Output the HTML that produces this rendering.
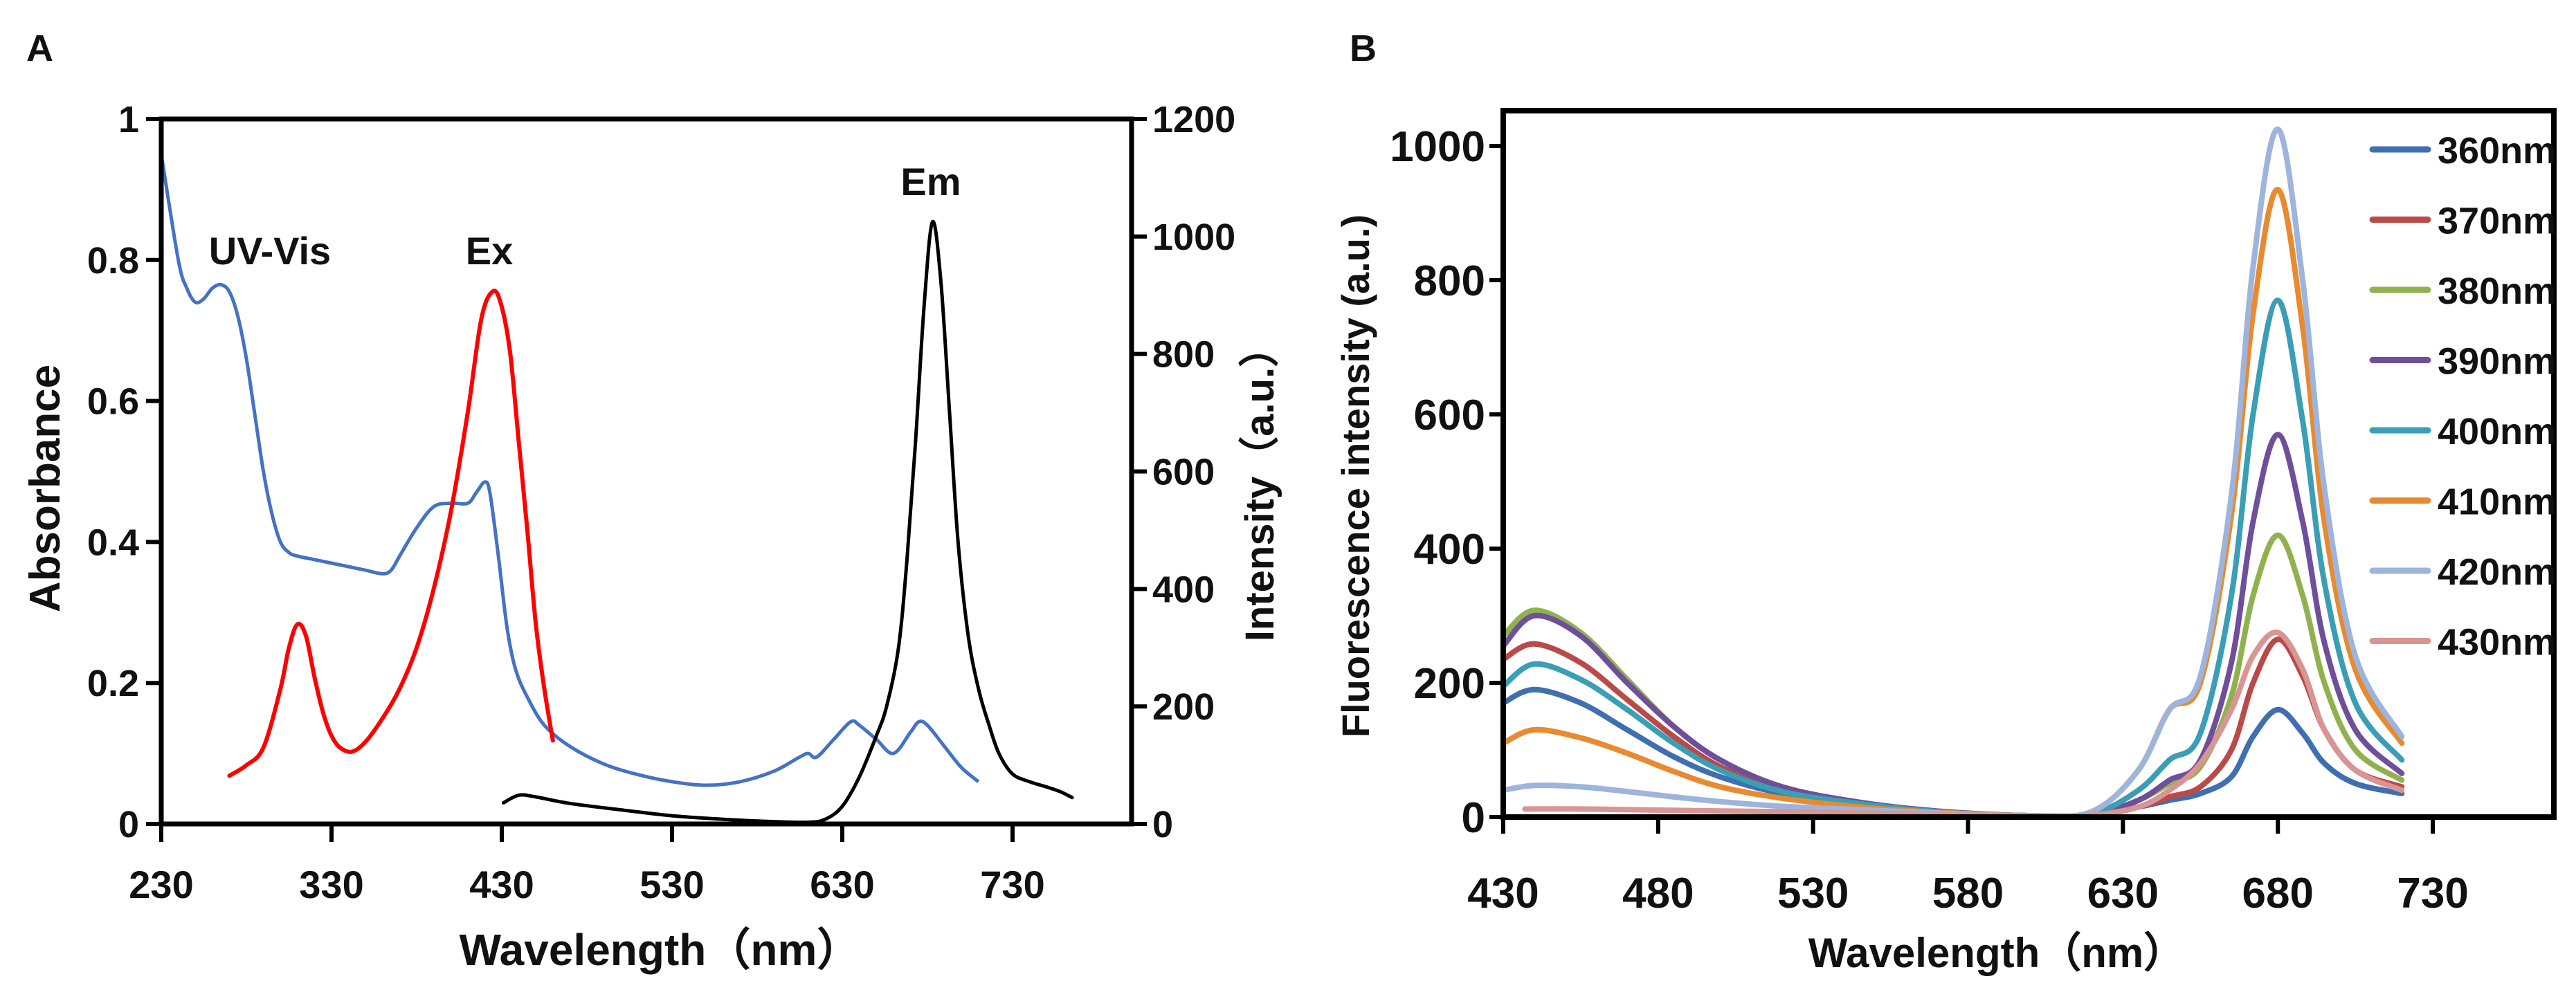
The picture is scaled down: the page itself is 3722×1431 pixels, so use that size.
<!DOCTYPE html>
<html><head><meta charset="utf-8">
<style>
html,body{margin:0;padding:0;background:#fff;}
svg{display:block;}
text{font-family:"Liberation Sans Narrow","Liberation Sans",sans-serif;font-weight:bold;fill:#111;}
</style></head>
<body>
<svg id="fig" width="3722" height="1431" viewBox="0 0 3722 1431" xmlns="http://www.w3.org/2000/svg">
<g id="pa"></g>
<g id="pb"></g>
</svg>
<script>
// ---------- Panel A data ----------
const uvWl  = [230,240,245,250,255,260,265,270,275,280,285,290,295,300,305,310,320,330,340,350,360,365,370,380,390,400,410,415,420,423,428,433,438,445,455,470,490,510,530,550,570,590,605,610,615,625,635,640,650,660,670,675,680,690,700,710];
const uvAbs = [0.95,0.80,0.76,0.74,0.745,0.76,0.765,0.755,0.72,0.66,0.58,0.50,0.44,0.40,0.385,0.38,0.375,0.37,0.365,0.36,0.355,0.36,0.38,0.42,0.45,0.455,0.455,0.47,0.485,0.47,0.38,0.28,0.22,0.18,0.14,0.11,0.085,0.07,0.06,0.055,0.06,0.075,0.095,0.10,0.095,0.12,0.145,0.14,0.12,0.10,0.13,0.145,0.14,0.11,0.08,0.06];
const exWl  = [270,280,290,300,305,310,315,320,325,330,335,342,350,360,370,380,390,400,410,418,425,430,435,440,445,450,455,460];
const exInt = [82,100,130,230,300,340,320,250,190,150,130,123,140,180,230,300,400,530,700,860,907,880,800,650,500,340,230,142];
const emWl  = [431,440,450,470,500,530,560,590,610,620,630,640,650,656,663,668,673,678,683,688,693,698,704,710,716,722,730,740,750,758,765];
const emInt = [36,49,46,35,24,14,8,4,3,8,30,80,150,200,300,450,650,880,1025,920,700,480,320,230,170,120,85,72,63,55,45];
const aXTicks = [230,330,430,530,630,730];
const aYTicks = [0,0.2,0.4,0.6,0.8,1];
const aYLabels = ["0","0.2","0.4","0.6","0.8","1"];
const aY2Ticks = [0,200,400,600,800,1000,1200];

// ---------- Panel B data ----------
const bWl = [430,440,455,470,485,500,520,545,570,600,620,635,645,655,665,672,680,688,695,705,720];
const bNames = ["360nm","370nm","380nm","390nm","400nm","410nm","420nm","430nm"];
const s360 = [170,190,170,130,90,60,35,18,8,2,3,15,25,35,60,120,160,125,80,50,35];
const s370 = [235,258,230,175,120,75,40,20,8,2,3,15,30,45,100,200,265,210,130,70,45];
const s380 = [270,308,275,205,135,85,45,22,9,2,4,25,50,75,180,330,420,330,200,100,55];
const s390 = [255,300,270,200,135,85,45,22,9,2,4,25,55,85,230,440,570,440,260,130,65];
const s400 = [195,228,205,160,110,70,38,20,8,2,5,40,85,125,330,600,770,590,350,170,85];
const s410 = [110,130,118,95,68,45,28,15,7,2,8,70,160,200,450,750,935,730,440,220,110];
const s420 = [40,47,45,38,30,23,16,11,6,2,8,70,160,210,480,820,1025,800,490,240,120];
const s430 = [null,12,12,11,10,9,8,6,4,2,3,15,40,80,160,240,275,220,130,70,40];
const bSeries = [s360,s370,s380,s390,s400,s410,s420,s430];
const bColors = ["#3f6fb0","#b94a48","#8fb24f","#6f4f9a","#3a9fb5","#e88a30","#9db4dc","#d99594"];
const bXTicks = [430,480,530,580,630,680,730];
const bYTicks = [0,200,400,600,800,1000];

const NS="http://www.w3.org/2000/svg";
function mk(parent,tag,attrs,txt){const e=document.createElementNS(NS,tag);for(const k in attrs)e.setAttribute(k,attrs[k]);if(txt!==undefined)e.textContent=txt;parent.appendChild(e);return e;}
function smoothPath(pts){
  if(pts.length<2)return "";
  let d="M"+pts[0][0].toFixed(1)+","+pts[0][1].toFixed(1);
  for(let i=0;i<pts.length-1;i++){
    const p0=pts[Math.max(0,i-1)],p1=pts[i],p2=pts[i+1],p3=pts[Math.min(pts.length-1,i+2)];
    const c1x=p1[0]+(p2[0]-p0[0])/6,c1y=p1[1]+(p2[1]-p0[1])/6;
    const c2x=p2[0]-(p3[0]-p1[0])/6,c2y=p2[1]-(p3[1]-p1[1])/6;
    d+=" C"+c1x.toFixed(1)+","+c1y.toFixed(1)+" "+c2x.toFixed(1)+","+c2y.toFixed(1)+" "+p2[0].toFixed(1)+","+p2[1].toFixed(1);
  }
  return d;
}

// ---------- Panel A ----------
(function(){
  const g=document.getElementById('pa');
  const L=233,R=1635,T=172,B=1191;
  const xs=v=>L+(v-230)*2.46;
  const ys=v=>B-v*(B-T);
  const ys2=v=>B-v/1200*(B-T);
  let e;
  e=mk(g,'text',{x:38,y:88,'font-size':54,'font-family':'Liberation Sans'},'A');
  
  
  // curves
  e=mk(g,'path',{d:smoothPath(uvWl.map((w,i)=>[xs(w),ys(uvAbs[i])])),fill:'none',stroke:'#4472c4','stroke-width':5,'stroke-linejoin':'round'});
  
  
  e=mk(g,'path',{d:smoothPath(exWl.map((w,i)=>[xs(w),ys2(exInt[i])])),fill:'none',stroke:'#ff0000','stroke-width':6,'stroke-linecap':'round'});
  
  
  e=mk(g,'path',{d:smoothPath(emWl.map((w,i)=>[xs(w),ys2(emInt[i])])),fill:'none',stroke:'#000','stroke-width':5,'stroke-linecap':'round'});
  
  
  // axes box
  e=mk(g,'rect',{x:L,y:T,width:R-L,height:B-T,fill:'none',stroke:'#000','stroke-width':7});
  
  
  aXTicks.forEach(v=>{
    const x=xs(v);
    let t=mk(g,'line',{x1:x,y1:B,x2:x,y2:B+26,stroke:'#000','stroke-width':6});
    
    
    t=mk(g,'text',{x:x,y:1298,'font-size':56,'text-anchor':'middle'},String(v));
    
    
  });
  aYTicks.forEach((v,i)=>{
    const y=ys(v);
    let t=mk(g,'line',{x1:L-22,y1:y,x2:L,y2:y,stroke:'#000','stroke-width':6});
    
    
    t=mk(g,'text',{x:L-32,y:y+19,'font-size':54,'text-anchor':'end'},aYLabels[i]);
    
    
  });
  aY2Ticks.forEach(v=>{
    const y=ys2(v);
    let t=mk(g,'line',{x1:R,y1:y,x2:R+22,y2:y,stroke:'#000','stroke-width':6});
    
    
    t=mk(g,'text',{x:R+30,y:y+19,'font-size':54},String(v));
    
    
  });
  e=mk(g,'text',{x:954,y:1395,'font-size':64,'text-anchor':'middle'},'Wavelength（nm）');
  
  
  e=mk(g,'text',{x:0,y:0,'font-size':62,'text-anchor':'middle','font-family':'Liberation Sans',transform:'translate(86,706) rotate(-90)'},'Absorbance');
  
  
  e=mk(g,'text',{x:0,y:0,'font-size':58,'text-anchor':'middle','font-family':'Liberation Sans',transform:'translate(1840,700) rotate(-90)'},'Intensity（a.u.）');
  
  
  e=mk(g,'text',{x:390,y:382,'font-size':56,'text-anchor':'middle'},'UV-Vis');
  
  
  e=mk(g,'text',{x:707,y:382,'font-size':56,'text-anchor':'middle'},'Ex');
  
  
  e=mk(g,'text',{x:1345,y:282,'font-size':56,'text-anchor':'middle'},'Em');
  
  
})();

// ---------- Panel B ----------
(function(){
  const g=document.getElementById('pb');
  const L=2172,R=3690,T=160,B=1181;
  const xs=v=>L+(v-430)*4.477;
  const ys=v=>B-v*0.970;
  let e;
  e=mk(g,'text',{x:1950,y:88,'font-size':54,'font-family':'Liberation Sans'},'B');
  
  
  bSeries.forEach((s,k)=>{
    const pts=[];
    s.forEach((v,i)=>{ if(v!==null){ let w=bWl[i]; if(k===7&&i===1) w=437; pts.push([xs(w),ys(v)]);} });
    const p=mk(g,'path',{d:smoothPath(pts),fill:'none',stroke:bColors[k],'stroke-width':8,'stroke-linecap':'round','stroke-linejoin':'round'});
    
    
  });
  e=mk(g,'rect',{x:L,y:T,width:R-L,height:B-T,fill:'none',stroke:'#000','stroke-width':8});
  
  
  bXTicks.forEach(v=>{
    const x=xs(v);
    let t=mk(g,'line',{x1:x,y1:B,x2:x,y2:B+24,stroke:'#000','stroke-width':6});
    
    
    t=mk(g,'text',{x:x,y:1312,'font-size':62,'text-anchor':'middle'},String(v));
    
    
  });
  bYTicks.forEach(v=>{
    const y=ys(v);
    let t=mk(g,'line',{x1:L-20,y1:y,x2:L,y2:y,stroke:'#000','stroke-width':6});
    
    
    t=mk(g,'text',{x:L-26,y:y+22,'font-size':62,'text-anchor':'end'},String(v));
    
    
  });
  e=mk(g,'text',{x:2885,y:1398,'font-size':60,'text-anchor':'middle'},'Wavelength（nm）');
  
  
  e=mk(g,'text',{x:0,y:0,'font-size':56,'text-anchor':'middle','font-family':'Liberation Sans',transform:'translate(1978,688) rotate(-90)'},'Fluorescence intensity (a.u.)');
  
  
  bNames.forEach((n,k)=>{
    const y=216+k*101.5;
    const lg=mk(g,'g',{});
    
    
    mk(lg,'line',{x1:3428,y1:y,x2:3508,y2:y,stroke:bColors[k],'stroke-width':9,'stroke-linecap':'round'});
    mk(lg,'text',{x:3522,y:y+20,'font-size':54},n);
  });
})();
</script>
</body></html>
